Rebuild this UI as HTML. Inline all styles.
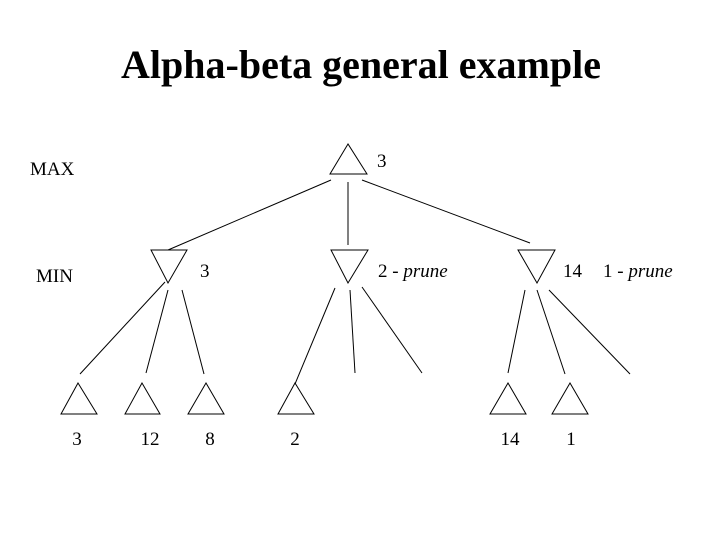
<!DOCTYPE html>
<html><head><style>
html,body{margin:0;padding:0;background:#fff;}
svg{display:block;}
text{font-family:"Liberation Serif",serif;fill:#000;}
</style></head><body>
<svg width="720" height="540" viewBox="0 0 720 540">
<text x="361" y="78" font-size="40" font-weight="bold" text-anchor="middle">Alpha-beta general example</text>
<g fill="none" stroke="#000" stroke-width="1">
<polygon points="348,144 330,174 367,174"/>
<line x1="331" y1="180" x2="168" y2="250"/>
<line x1="348" y1="182" x2="348" y2="245"/>
<line x1="362" y1="180" x2="530" y2="243"/>
<polygon points="151,250 187,250 168,283"/>
<polygon points="331,250 368,250 348,283"/>
<polygon points="518,250 555,250 537,283"/>
<line x1="165" y1="282" x2="80" y2="374"/>
<line x1="168" y1="290" x2="146" y2="373"/>
<line x1="182" y1="290" x2="204" y2="374"/>
<line x1="335" y1="288" x2="295" y2="384"/>
<line x1="350" y1="290" x2="355" y2="373"/>
<line x1="362" y1="287" x2="422" y2="373"/>
<line x1="525" y1="290" x2="508" y2="373"/>
<line x1="537" y1="290" x2="565" y2="374"/>
<line x1="549" y1="290" x2="630" y2="374"/>
<polygon points="78,383 61,414 97,414"/>
<polygon points="142,383 125,414 160,414"/>
<polygon points="206,383 188,414 224,414"/>
<polygon points="295,383 278,414 314,414"/>
<polygon points="508,383 490,414 526,414"/>
<polygon points="570,383 552,414 588,414"/>
</g>
<g font-size="19">
<text x="30" y="175">MAX</text>
<text x="36" y="282">MIN</text>
<text x="377" y="167">3</text>
<text x="200" y="277">3</text>
<text x="378" y="277">2 - <tspan font-style="italic">prune</tspan></text>
<text x="563" y="277">14</text>
<text x="603" y="277">1 - <tspan font-style="italic">prune</tspan></text>
<text x="77" y="445" text-anchor="middle">3</text>
<text x="150" y="445" text-anchor="middle">12</text>
<text x="210" y="445" text-anchor="middle">8</text>
<text x="295" y="445" text-anchor="middle">2</text>
<text x="510" y="445" text-anchor="middle">14</text>
<text x="571" y="445" text-anchor="middle">1</text>
</g>
</svg>
</body></html>
